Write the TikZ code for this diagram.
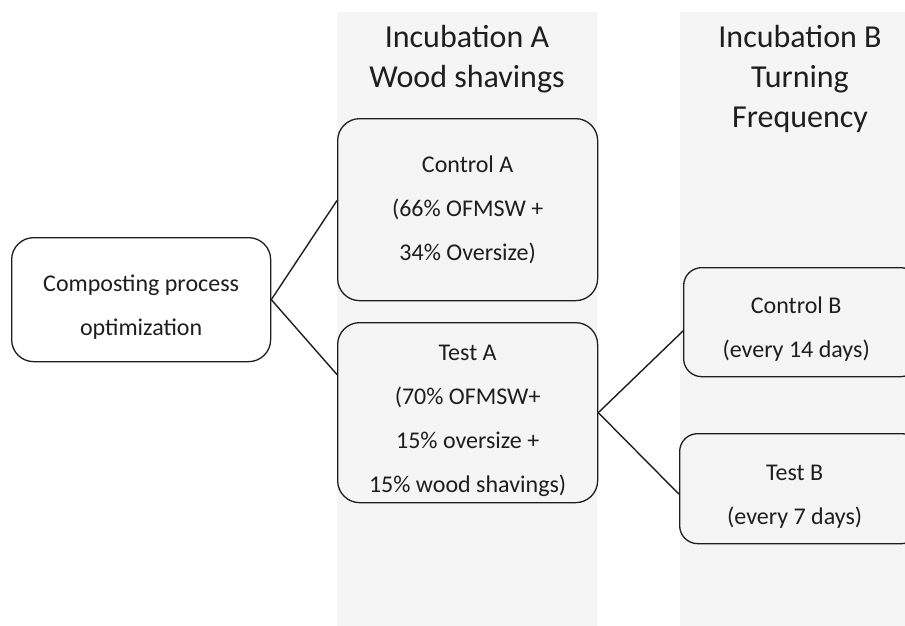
\documentclass[tikz,border=0pt]{standalone}
\usepackage{fontspec}
\setmainfont{Carlito}
\usetikzlibrary{calc}
\definecolor{panel}{HTML}{F5F5F5}
\definecolor{ink}{HTML}{1E1E1E}
\newcommand{\lowerby}{\rule{0pt}{31pt}}
\begin{document}
\begin{tikzpicture}[x=1pt,y=-1pt,
  panelbox/.style={fill=panel,draw=none},
  head/.style={text=ink,align=center,font=\fontsize{32}{40}\selectfont},
  stepbox/.style={draw=ink,line width=1.3pt,rounded corners=22pt,align=center,text=ink,
    font=\fontsize{24}{44}\selectfont,inner sep=0pt,anchor=north west},
  link/.style={draw=ink,line width=1.4pt}]
\useasboundingbox (0,0) rectangle (905,626);
\clip (0,0) rectangle (905,626);
\fill[white] (0,0) rectangle (905,626);
\path[panelbox] (337,12) rectangle (597,626);
\path[panelbox] (680,12) rectangle (925,626);
\node[head] (hA) at (467,59) {Incubation A\\Wood shavings};
\node[head] (hB) at (800,79) {Incubation B\\Turning\\Frequency};
\node[stepbox,fill=white,minimum width=259pt,minimum height=124pt] (comp) at (11,237) {\lowerby Composting process\\optimization};
\node[stepbox,fill=panel,minimum width=260pt,minimum height=182pt] (ctrlA) at (337,118) {Control A\\(66\% OFMSW +\\34\% Oversize)};
\node[stepbox,fill=panel,minimum width=260pt,minimum height=180pt] (testA) at (337,322) {\lowerby Test A\\(70\% OFMSW+\\15\% oversize +\\15\% wood shavings)};
\node[stepbox,fill=panel,rounded corners=18pt,minimum width=235pt,minimum height=109pt] (ctrlB) at (683,267) {\hspace*{-10pt}\lowerby Control B\\\hspace*{-10pt}(every 14 days)};
\node[stepbox,fill=panel,rounded corners=18pt,minimum width=240pt,minimum height=110pt] (testB) at (679,433) {\hspace*{-10pt}\lowerby Test B\\\hspace*{-10pt}(every 7 days)};
\draw[link] (comp.east) -- ($(ctrlA.north west)!0.45!(ctrlA.south west)$);
\draw[link] (comp.east) -- ($(testA.north west)!0.29!(testA.south west)$);
\draw[link] (testA.east) -- ($(ctrlB.north west)!0.58!(ctrlB.south west)$);
\draw[link] (testA.east) -- ($(testB.north west)!0.55!(testB.south west)$);
\end{tikzpicture}
\end{document}
